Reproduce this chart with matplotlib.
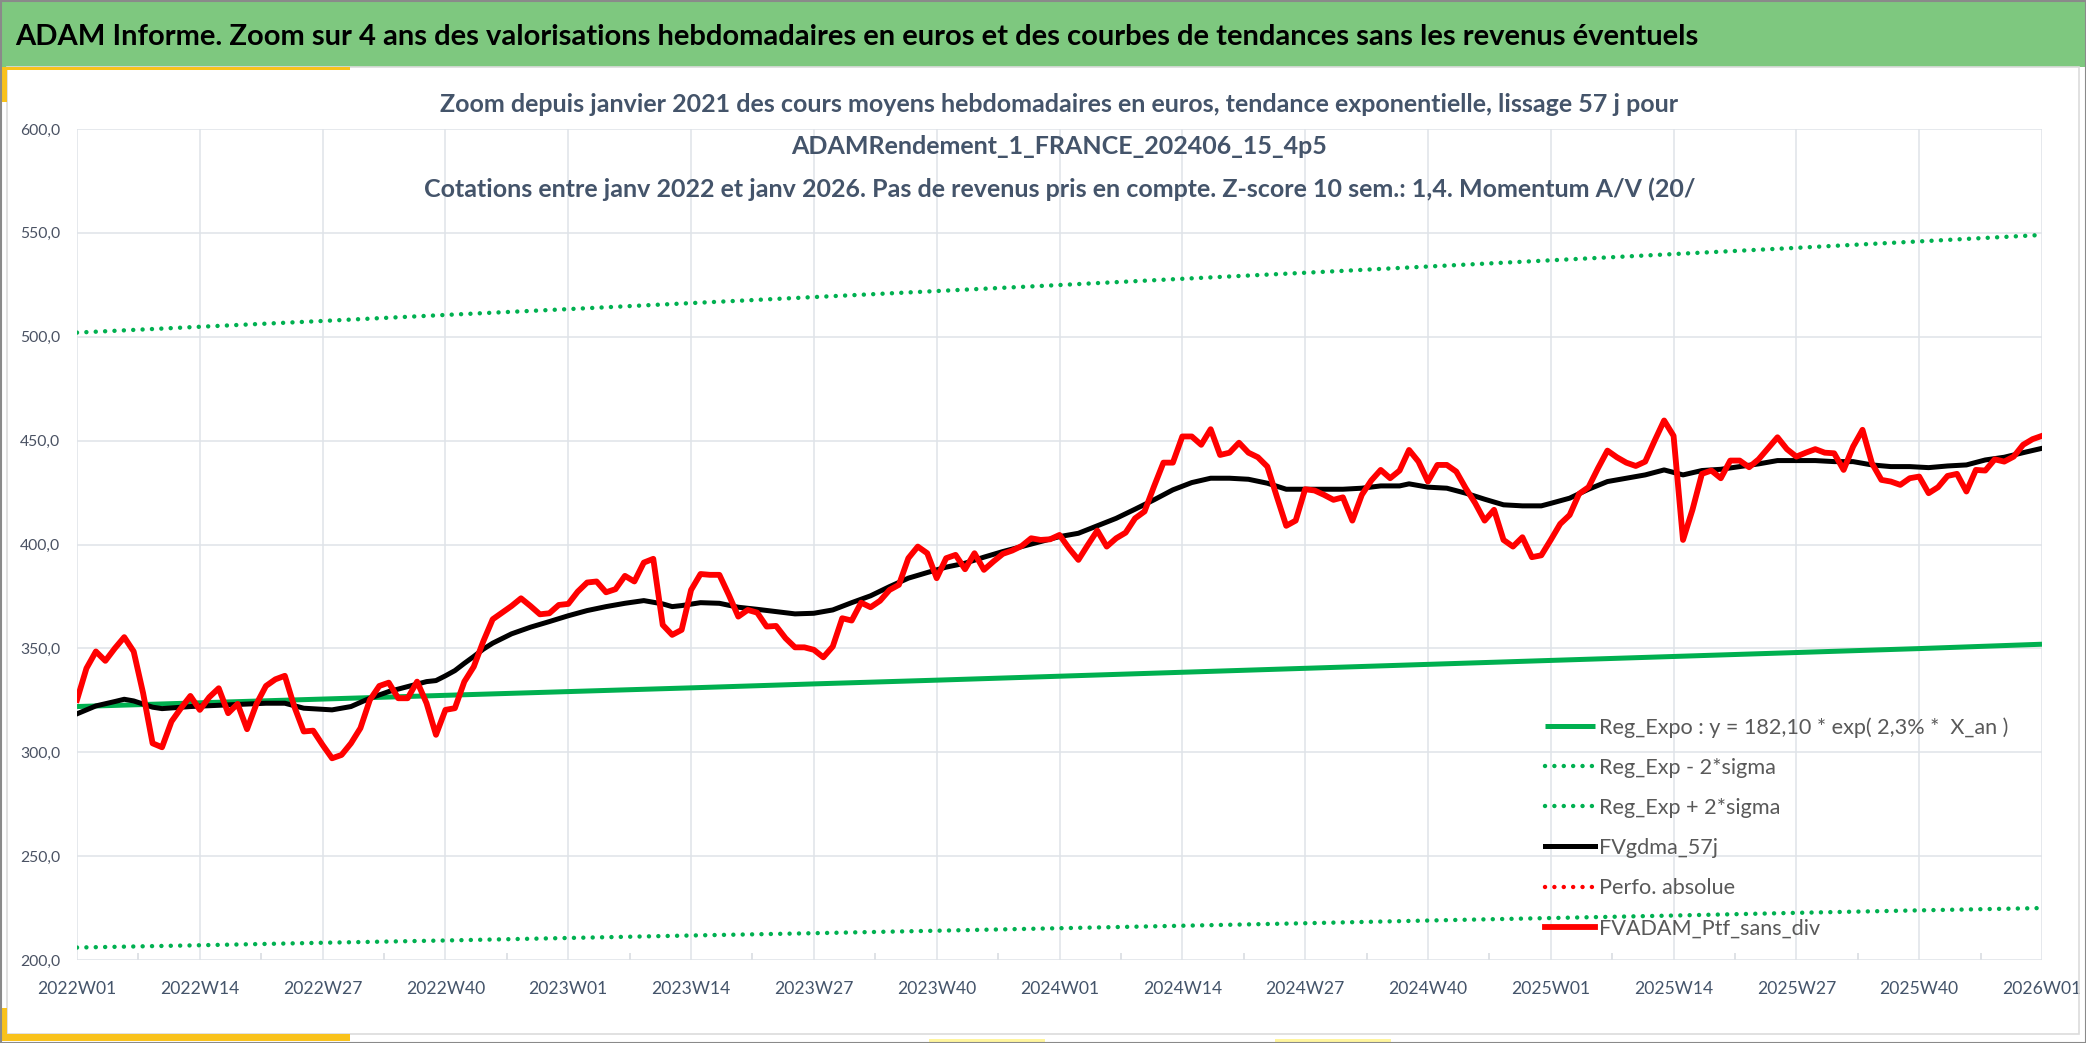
import numpy as np
import matplotlib
matplotlib.use('Agg')
import matplotlib.pyplot as plt
from matplotlib.patches import Rectangle
from matplotlib.ticker import FuncFormatter, FixedLocator
from matplotlib.lines import Line2D

plt.rcParams['font.family'] = ['Lato', 'DejaVu Sans']

#%% data (week index 0 = 2022W01, 208 = 2026W01)
week_labels = ['2022W01', '2022W14', '2022W27', '2022W40',
               '2023W01', '2023W14', '2023W27', '2023W40',
               '2024W01', '2024W14', '2024W27', '2024W40',
               '2025W01', '2025W14', '2025W27', '2025W40', '2026W01']
tick_weeks = list(range(0, 209, 13))

# trend curves, read at each quarterly tick
reg_expo = [322.0, 323.8, 325.6, 327.4, 329.2, 331.0, 332.9, 334.7, 336.6,
            338.5, 340.4, 342.3, 344.2, 346.1, 348.0, 349.9, 352.0]
reg_minus = [206.0, 207.1, 208.3, 209.4, 210.6, 211.8, 212.9, 214.1, 215.3,
             216.5, 217.7, 219.0, 220.2, 221.4, 222.7, 223.9, 225.0]
reg_plus = [502.0, 504.8, 507.6, 510.5, 513.3, 516.2, 519.1, 522.0, 524.9,
            527.9, 530.8, 533.8, 536.8, 539.8, 542.8, 545.9, 549.0]

# weekly portfolio value FVADAM_Ptf_sans_div
ptf = [325.2, 340.4, 348.5, 344.0, 350.0, 355.4, 348.5, 328.4, 304.3, 302.4,
       314.8, 321.2, 327.1, 320.4, 326.5, 330.8, 318.8, 323.3, 311.1, 323.3,
       331.9, 335.1, 336.8, 322.0, 310.0, 310.4, 303.5, 297.1, 298.7, 304.3,
       311.6, 325.2, 331.9, 333.5, 326.0, 326.0, 334.0, 323.6, 308.4, 320.4,
       321.2, 334.0, 341.2, 353.3, 364.0, 367.2, 370.4, 374.1, 370.4, 366.4,
       366.9, 370.9, 371.4,
       377.3, 381.7, 382.2, 377.0, 378.5, 384.9, 382.2, 391.3, 393.1, 361.3,
       356.5, 358.9, 378.1, 385.8, 385.4, 385.4, 375.7, 365.3, 368.5, 367.2,
       360.5, 360.8, 354.9, 350.5, 350.5, 349.3, 345.7, 350.9, 364.5, 363.4,
       372.0, 369.8, 372.9, 378.1, 380.6, 393.4, 399.0, 395.8, 383.8, 393.4,
       395.0, 388.1, 395.8, 387.8, 391.8, 395.5, 397.1, 399.3, 403.0, 402.2,
       402.5, 404.6,
       398.2, 392.6, 399.8, 406.7, 399.0, 403.0, 405.7, 412.6, 415.9, 427.9,
       439.4, 439.4, 452.0, 452.0, 448.0, 455.5, 443.1, 444.2, 449.0, 444.2,
       442.0, 437.5, 423.1, 409.0, 411.5, 426.6, 426.0, 423.9, 421.5, 422.7,
       411.5, 423.9, 430.8, 435.9, 431.9, 435.6, 445.5, 439.9, 430.3, 438.3,
       438.3, 435.1, 427.1, 419.9, 411.5, 416.7, 402.2, 399.0, 403.5, 393.9,
       394.8, 402.2,
       409.9, 414.2, 424.4, 427.6, 436.7, 445.2, 442.0, 439.4, 437.8, 439.9,
       450.0, 459.7, 452.3, 402.2, 416.7, 434.0, 435.6, 431.9, 440.4, 440.4,
       437.2, 441.0, 446.3, 451.6, 445.9, 442.3, 444.2, 445.9, 444.2, 443.9,
       435.9, 447.1, 455.2, 439.1, 431.1, 430.3, 428.7, 431.9, 432.7, 424.7,
       427.6, 433.0, 434.0, 425.5, 435.9, 435.6, 441.0, 439.9, 442.3, 448.0,
       450.7, 452.3]

# moving average FVgdma_57j, read at these weeks
gdma_wk = [0, 2, 4, 5, 6, 8, 9, 12, 16, 20, 22, 24, 27, 29, 31, 33, 35, 37,
           38, 39, 40, 41, 42, 43, 44, 46, 48, 50, 52, 54, 56, 58, 60, 62, 63,
           64, 66, 68, 70, 72, 74, 76, 78, 80, 82, 84, 86, 88, 90, 92, 94, 96,
           98, 100, 102, 104, 106, 108, 110, 112, 114, 116, 118, 120, 122, 124,
           126, 128, 130, 132, 134, 136, 138, 140, 141, 143, 145, 147, 149,
           151, 153, 155, 156, 158, 160, 162, 164, 166, 168, 170, 172, 174,
           176, 178, 180, 182, 184, 186, 188, 190, 192, 194, 196, 198, 200,
           202, 204, 206, 208]
gdma = [318.5, 322.3, 324.4, 325.5, 324.7, 321.7, 321.0, 322.0, 322.8, 323.6,
        323.6, 321.2, 320.4, 322.0, 326.0, 329.2, 331.6, 334.0, 334.5, 336.8,
        339.3, 342.8, 346.1, 349.6, 352.5, 357.0, 360.2, 362.9, 365.7, 368.2,
        370.1, 371.7, 373.0, 371.4, 370.1, 370.6, 372.0, 371.7, 369.8, 368.8,
        367.7, 366.6, 366.9, 368.5, 372.0, 375.3, 379.7, 383.8, 386.5, 389.1,
        391.0, 393.9, 396.6, 399.0, 401.4, 403.8, 405.4, 409.0, 412.6, 417.0,
        421.5, 426.3, 429.8, 431.9, 431.9, 431.4, 429.5, 426.6, 426.6, 426.6,
        426.6, 427.1, 428.2, 428.2, 429.2, 427.6, 427.1, 424.7, 421.8, 419.1,
        418.6, 418.6, 419.8, 422.3, 426.6, 430.3, 431.9, 433.5, 435.9, 433.5,
        435.6, 436.2, 437.5, 438.8, 440.4, 440.4, 440.4, 439.9, 439.9, 438.3,
        437.5, 437.5, 437.0, 437.8, 438.3, 440.7, 442.0, 444.2, 446.3]

title = ("ADAM Informe. Zoom sur 4 ans des valorisations hebdomadaires en euros "
         "et des courbes de tendances sans les revenus éventuels")
subtitle = ["Zoom depuis janvier 2021 des cours moyens hebdomadaires en euros, "
            "tendance exponentielle, lissage 57 j pour",
            "ADAMRendement_1_FRANCE_202406_15_4p5",
            "Cotations entre janv 2022 et janv 2026. Pas de revenus pris en "
            "compte. Z-score 10 sem.: 1,4. Momentum A/V (20/"]

#%% figure
W, H = 2086, 1043
fig = plt.figure(figsize=(W / 100, H / 100), dpi=100)

def box(x0, y0, x1, y1, **kw):
    # pixel box, origin top left
    r = Rectangle((x0 / W, 1 - y1 / H), (x1 - x0) / W, (y1 - y0) / H,
                  transform=fig.transFigure, **kw)
    fig.add_artist(r)

box(0, 0, W, 67, facecolor='#7ec87f', edgecolor='none')
box(7, 67, 2079, 1034, facecolor='none', edgecolor='#dcdcdc', lw=1.2)
box(0, 67, 350, 70, facecolor='#f9c21b', edgecolor='none')
box(0, 67, 7, 102, facecolor='#f9c21b', edgecolor='none')
box(0, 1034, 350, 1041, facecolor='#f9c21b', edgecolor='none')
box(0, 1008, 7, 1041, facecolor='#f9c21b', edgecolor='none')
box(929, 1039, 1045, 1042, facecolor='#fff59d', edgecolor='none')
box(1275, 1039, 1391, 1042, facecolor='#fff59d', edgecolor='none')
box(0.5, 0.5, W - 0.5, H - 0.5, facecolor='none', edgecolor='#8a8a8a', lw=1.5)

fig.text(15 / W, 1 - 37 / H, title, fontsize=21.0, fontweight='bold',
         color='black', va='center', ha='left')

ax = fig.add_axes([77 / W, 83 / H, 1965 / W, 831 / H])
ax.set_xlim(0, 208)
ax.set_ylim(200, 600)

xc = (77 + 1965 / 2) / W
for txt, yy in zip(subtitle, [104, 146, 189]):
    fig.text(xc, 1 - yy / H, txt, fontsize=18, fontweight='bold',
             color='#44546a', ha='center', va='center')

dots = (0, (0.01, 2.1))
l_exp, = ax.plot(tick_weeks, reg_expo, color='#00b050', lw=3.6, zorder=3,
                 solid_capstyle='butt',
                 label='Reg_Expo : y = 182,10 * exp( 2,3% *  X_an )')
l_minus, = ax.plot(tick_weeks, reg_minus, color='#00b050', lw=3.2, ls=dots,
                   dash_capstyle='round', zorder=2, label='Reg_Exp - 2*sigma')
l_plus, = ax.plot(tick_weeks, reg_plus, color='#00b050', lw=3.2, ls=dots,
                  dash_capstyle='round', zorder=2, label='Reg_Exp + 2*sigma')
l_gdma, = ax.plot(gdma_wk, gdma, color='black', lw=3.6, zorder=4,
                  solid_joinstyle='round', label='FVgdma_57j')
l_perf = Line2D([], [], color='#ff0000', lw=3.2, ls=dots, dash_capstyle='round',
                label='Perfo. absolue')
l_ptf, = ax.plot(range(len(ptf)), ptf, color='#ff0000', lw=4.2, zorder=5,
                 solid_joinstyle='round', label='FVADAM_Ptf_sans_div')

ax.set_xticks(tick_weeks)
ax.set_xticklabels(week_labels)
ax.xaxis.set_minor_locator(FixedLocator(np.arange(6.5, 208, 13)))
ax.set_yticks(range(200, 601, 50))
ax.yaxis.set_major_formatter(FuncFormatter(lambda v, p: f"{v:.1f}".replace('.', ',')))
ax.tick_params(axis='x', which='major', length=0, pad=15, labelsize=12.6,
               labelcolor='#44546a')
ax.tick_params(axis='x', which='minor', direction='in', length=5,
               color='#d9dde2', width=1.2)
ax.tick_params(axis='y', length=0, pad=12, labelsize=11.3, labelcolor='#4a5263')
ax.grid(True, which='major', color='#dfe3e8', lw=1.1)
ax.set_axisbelow(True)
for s in ax.spines.values():
    s.set_visible(False)

leg = ax.legend(handles=[l_exp, l_minus, l_plus, l_gdma, l_perf, l_ptf],
                loc='upper left', bbox_to_anchor=(1545 / W, 1 - 717 / H),
                bbox_transform=fig.transFigure, frameon=False, fontsize=15.6,
                handlelength=2.3, handletextpad=0.2, labelspacing=0.93,
                borderpad=0, borderaxespad=0)
for t in leg.get_texts():
    t.set_color('#595959')

fig.savefig('out.png', dpi=100)
